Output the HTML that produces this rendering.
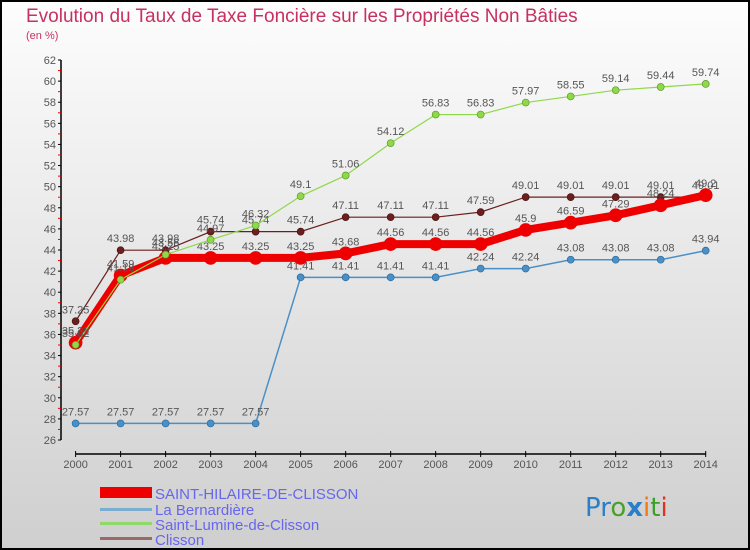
<!DOCTYPE html>
<html><head><meta charset="utf-8"><style>
body{margin:0;width:750px;height:550px;overflow:hidden;font-family:"Liberation Sans",sans-serif}
#wrap{position:absolute;left:0;top:0;width:746px;height:546px;border:2px solid #000;background:linear-gradient(#fdfdfd,#cfcfcf)}
</style></head><body>
<div id="wrap">
<svg id="chart" width="750" height="550" style="position:absolute;left:-2px;top:-2px">
<text x="26" y="22" font-size="19" fill="#c8305f">Evolution du Taux de Taxe Foncière sur les Propriétés Non Bâties</text>
<text x="26" y="39" font-size="11" fill="#c8305f">(en %)</text>
<g id="axes"></g><g id="series"></g>
<g>
<rect x="100" y="487" width="52" height="11" fill="#e00"/>
<text x="155" y="499" font-size="15" fill="#6666ee">SAINT-HILAIRE-DE-CLISSON</text>
<rect x="100" y="508" width="52" height="3" fill="#7aaed0"/>
<text x="155" y="515" font-size="15" fill="#6666ee">La Bernardière</text>
<rect x="100" y="522" width="52" height="3" fill="#8fd86a"/>
<text x="155" y="530" font-size="15" fill="#6666ee">Saint-Lumine-de-Clisson</text>
<rect x="100" y="537" width="52" height="3" fill="#9a6a6a"/>
<text x="155" y="545" font-size="15" fill="#6666ee">Clisson</text>
</g>
<text x="585" y="516" font-size="26" font-family="DejaVu Sans"><tspan fill="#2a7fc9">Pr</tspan><tspan fill="#4aa02a">o</tspan><tspan fill="#2a7fc9" font-weight="bold">x</tspan><tspan fill="#f07a10">i</tspan><tspan fill="#3aa02a">t</tspan><tspan fill="#e03020">i</tspan></text>
</svg></div>
<script>
const years=[2000,2001,2002,2003,2004,2005,2006,2007,2008,2009,2010,2011,2012,2013,2014];
const yTicks=[26,28,30,32,34,36,38,40,42,44,46,48,50,52,54,56,58,60,62];
const sHilaire=[35.22,41.59,43.25,43.25,43.25,43.25,43.68,44.56,44.56,44.56,45.9,46.59,47.29,48.24,49.2];
const sBernardiere=[27.57,27.57,27.57,27.57,27.57,41.41,41.41,41.41,41.41,42.24,42.24,43.08,43.08,43.08,43.94];
const sLumine=[35.02,41.19,43.56,44.97,46.32,49.1,51.06,54.12,56.83,56.83,57.97,58.55,59.14,59.44,59.74];
const sClisson=[37.25,43.98,43.98,45.74,45.74,45.74,47.11,47.11,47.11,47.59,49.01,49.01,49.01,49.01,49.01];
const NS="http://www.w3.org/2000/svg";
const xs=i=>75.6+i*(705.7-75.6)/(years.length-1);
const ys=v=>440-(v-26)*380/36;
function mk(t,a,p){const e=document.createElementNS(NS,t);for(const k in a)e.setAttribute(k,a[k]);p.appendChild(e);return e;}
const ax=document.getElementById('axes');
mk('line',{x1:61,y1:60,x2:61,y2:440,stroke:'#000','stroke-width':1.5},ax);
yTicks.forEach((v,i)=>{
 const y=ys(v);
 const t=mk('line',{x1:58,y1:y,x2:61,y2:y,stroke:'#000'},ax);
 
 
 if(i<yTicks.length-1){mk('line',{x1:58,y1:ys(v+1),x2:61,y2:ys(v+1),stroke:'#e00'},ax);}
 const l=mk('text',{x:56,y:y+4,'font-size':11,fill:'#555','text-anchor':'end'},ax);
 l.textContent=v;
 
 
});
mk('line',{x1:75.6,y1:454,x2:705.7,y2:454,stroke:'#000','stroke-width':1.5},ax);
years.forEach((yr,i)=>{
 mk('line',{x1:xs(i),y1:451,x2:xs(i),y2:457,stroke:'#000'},ax);
 const l=mk('text',{x:xs(i),y:468,'font-size':11,fill:'#555','text-anchor':'middle'},ax);
 l.textContent=yr;
 
 
});
const sg=document.getElementById('series');
function draw(vals,color,w,r,name,strokeCol){
 const g=mk('g',{},sg);
 
 
 mk('polyline',{points:vals.map((v,i)=>xs(i)+','+ys(v)).join(' '),fill:'none',stroke:color,'stroke-width':w},g);
 vals.forEach((v,i)=>{
  const c=mk('circle',{cx:xs(i),cy:ys(v),r:r,fill:color,stroke:strokeCol,'stroke-width':0.7},g);
  
  
  const t=mk('text',{x:xs(i),y:ys(v)-8,'font-size':11,fill:'#555','text-anchor':'middle'},g);
  t.textContent=v;
 });
}
draw(sBernardiere,'#4a90c8',1.5,3.5,'series-la-bernardiere','#2a6a9a');
draw(sClisson,'#6b2020',1.2,3.5,'series-clisson','#4a1010');
draw(sHilaire,'#ee0000',8,6.5,'series-saint-hilaire','#ee0000');
draw(sLumine,'#8fd84a',1.2,3.5,'series-saint-lumine','#5a9a2a');
</script>
</body></html>
